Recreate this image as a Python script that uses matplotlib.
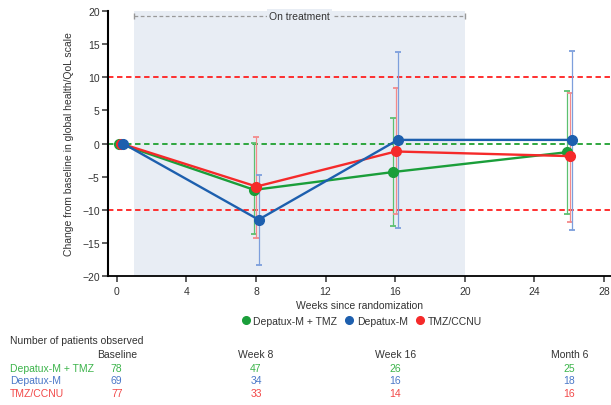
import matplotlib
matplotlib.use("Agg")
import matplotlib.pyplot as plt
import matplotlib.transforms as mtransforms

plt.rcParams['font.family'] = ['Liberation Sans', 'DejaVu Sans']
plt.rcParams['font.size'] = 7.5

# data
series = ['Depatux-M + TMZ', 'Depatux-M', 'TMZ/CCNU']
weeks = [0.22, 8, 16, 26]
col_labels = ['Baseline', 'Week 8', 'Week 16', 'Month 6']

green_mean = [0, -7.0, -4.3, -1.3]
green_lo = [0, -13.7, -12.4, -10.6]
green_hi = [0, 0.1, 3.9, 7.9]

blue_mean = [0, -11.5, 0.55, 0.55]
blue_lo = [0, -18.4, -12.8, -13.0]
blue_hi = [0, -4.7, 13.8, 14.0]

red_mean = [0, -6.5, -1.2, -1.9]
red_lo = [0, -14.2, -10.7, -11.9]
red_hi = [0, 1.0, 8.4, 7.7]

green_n = [78, 47, 26, 25]
blue_n = [69, 34, 16, 18]
red_n = [77, 33, 14, 16]

treat_start, treat_end = 1, 20

GREEN, BLUE, RED = '#1a9e3a', '#1d5fae', '#f52a2a'
GREEN_L, BLUE_L, RED_L = '#5cc070', '#7d9fdc', '#f48a8a'
GREEN_T, BLUE_T, RED_T = '#3cb44b', '#4a78c8', '#f24848'
SHADE = '#e8edf4'

fig = plt.figure(figsize=(6.11, 4.06), dpi=100)
ax = fig.add_axes([0.1768, 0.318, 0.8232, 0.652])

ax.axvspan(treat_start, treat_end, color=SHADE, lw=0, zorder=0)

ax.axhline(10, color='#ff1f1f', ls=(0, (3, 2)), lw=1.3, zorder=1)
ax.axhline(-10, color='#ff1f1f', ls=(0, (3, 2)), lw=1.3, zorder=1)
ax.axhline(0, color='#1fa02f', ls=(0, (3, 2)), lw=1.3, zorder=1)

# on treatment bracket
ax.plot([treat_start, treat_end], [19.3, 19.3], color='#999999', ls=(0, (3, 2)), lw=0.9, zorder=2)
ax.plot([treat_start, treat_end], [19.3, 19.3], ls='none', marker='|', ms=4, color='#999999', zorder=2)
ax.text((treat_start + treat_end) / 2, 19.3, 'On treatment', ha='center', va='center', color='#333333',
        bbox=dict(facecolor=SHADE, edgecolor='none', pad=1.5), zorder=3)

groups = [
    (series[0], green_mean, green_lo, green_hi, GREEN, GREEN_L, -0.1),
    (series[2], red_mean, red_lo, red_hi, RED, RED_L, 0.03),
    (series[1], blue_mean, blue_lo, blue_hi, BLUE, BLUE_L, 0.15),
]
for name, mean, lo, hi, c, cl, dx in groups:
    xs = [w + dx for w in weeks]
    yerr = [[m - l for m, l in zip(mean, lo)], [h - m for m, h in zip(mean, hi)]]
    ax.errorbar(xs[1:], mean[1:], yerr=[yerr[0][1:], yerr[1][1:]], fmt='none',
                ecolor=cl, elinewidth=0.9, capsize=2.5, capthick=1.3, zorder=3)
    ax.plot(xs, mean, color=c, lw=1.7, marker='o', ms=7, zorder=4, label=name)

ax.set_xlim(-0.5, 28.4)
ax.set_ylim(-20, 20)
ax.set_xticks(range(0, 29, 4))
ax.set_yticks(range(-20, 21, 5))
ax.set_yticklabels([str(v).replace('-', '\u2212') for v in range(-20, 21, 5)])
for s in ['top', 'right']:
    ax.spines[s].set_visible(False)
ax.spines['left'].set_linewidth(1.5)
ax.spines['bottom'].set_linewidth(1.3)
ax.tick_params(length=4, width=1.1, colors='#333333', labelsize=7.5)
ax.tick_params(axis='y', pad=2)
ax.set_ylabel('Change from baseline in global health/QoL scale', color='#333333', labelpad=6)
ax.set_xlabel('Weeks since randomization', color='#333333', labelpad=3)

leg_colors = [GREEN, BLUE, RED]
leg_handles = [plt.Line2D([], [], ls='none', marker='o', ms=5.5, color=c) for c in leg_colors]
fig.legend(leg_handles, series, loc='center', bbox_to_anchor=(361 / 611, 1 - 322 / 406), ncol=3,
           frameon=False, handletextpad=0.2, columnspacing=0.7, handlelength=1.0, fontsize=7.5,
           labelcolor='#333333')

# number of patients table
tr = mtransforms.blended_transform_factory(ax.transData, fig.transFigure)
fig.text(10 / 611, 1 - 341 / 406, 'Number of patients observed', va='center', color='#333333')
for w, lab in zip(weeks, col_labels):
    ax.text(round(w), 1 - 355 / 406, lab, transform=tr, ha='center', va='center', color='#333333', clip_on=False)
rows = [(series[0], green_n, GREEN_T), (series[1], blue_n, BLUE_T), (series[2], red_n, RED_T)]
for i, (name, counts, c) in enumerate(rows):
    yy = 1 - (369 + 12.5 * i) / 406
    fig.text(10 / 611, yy, name, va='center', color=c)
    for w, n in zip(weeks, counts):
        ax.text(round(w), yy, str(n), transform=tr, ha='center', va='center', color=c, clip_on=False)

fig.savefig('out.png', dpi=100)
